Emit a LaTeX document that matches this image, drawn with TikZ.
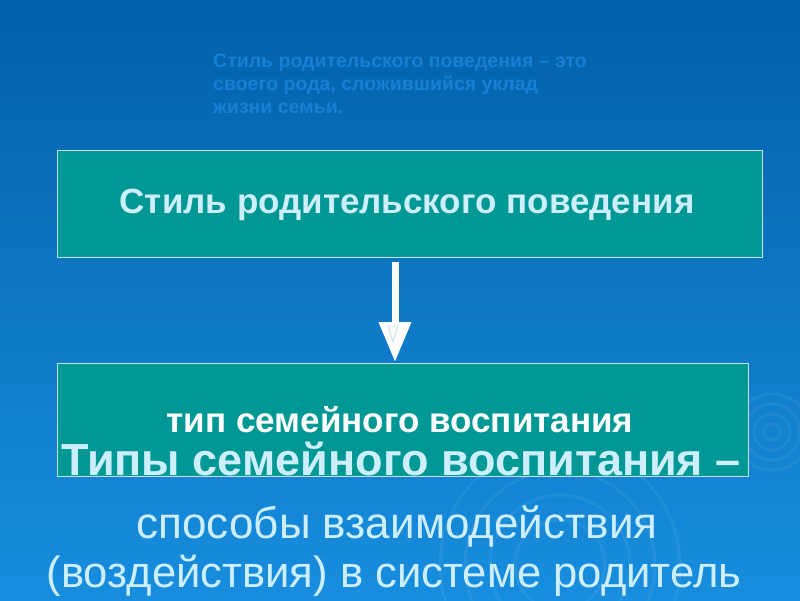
\documentclass[tikz,border=0pt]{standalone}
\usepackage{fontspec}
\setmainfont{Liberation Sans}
\usetikzlibrary{arrows.meta}
\definecolor{bgtop}{RGB}{2,96,170}
\definecolor{bgbot}{RGB}{24,142,222}
\definecolor{boxfill}{RGB}{0,152,148}
\definecolor{boxline}{RGB}{190,225,230}
\definecolor{notetext}{RGB}{24,128,212}
\definecolor{lighttext}{RGB}{205,238,252}

\begin{document}
\begin{tikzpicture}[x=1pt, y=-1pt,
  box/.style={draw=boxline, line width=0.8pt, fill=boxfill, inner sep=0pt},
  ring/.style={draw=white, opacity=0.06, line width=3pt}]
\useasboundingbox (0,0) rectangle (800,600);
\shade[top color=bgtop, bottom color=bgbot] (0,0) rectangle (800,600);
% faint rings
\foreach \r in {8,18,28,38} \draw[ring] (772,432) circle (\r);
\foreach \r in {45,70,95,120} \draw[ring] (560,565) circle (\r);
% note
\node[anchor=north west, inner sep=0pt, align=left, text=notetext, font=\bfseries\fontsize{19.5}{23}\selectfont] (note) at (213,54)
  {Стиль родительского поведения – это\\своего рода, сложившийся уклад\\жизни семьи.};
% boxes
\node[box, minimum width=705pt, minimum height=107pt] (style) at (409.5,203.5) {};
\node[text=lighttext, font=\bfseries\fontsize{35}{40}\selectfont] (styletext) at (407,205) {Стиль родительского поведения};
\node[box, minimum width=691pt, minimum height=113pt] (type) at (402.5,419.5) {};
\node[text=white, font=\bfseries\fontsize{35}{40}\selectfont] (typetext) at (400,420) {тип семейного воспитания};
% arrow
\coordinate (a) at (395,262);
\coordinate (b) at (395,362);
\draw[white, line width=7pt, -{Triangle[length=40pt, width=31pt]}] (a) -- (b);
\draw[boxline, line width=0.8pt, fill=white] (388,326) -- (398,326) -- (393,342) -- cycle;
% definition
\node[anchor=base, text=lighttext, font=\bfseries\fontsize{45}{56}\selectfont] (def1) at (401,475) {Типы семейного воспитания –};
\node[anchor=base, text=lighttext, font=\fontsize{44}{56}\selectfont] (def2) at (397,538) {способы взаимодействия};
\node[anchor=base, text=lighttext, font=\fontsize{43.6}{56}\selectfont] (def3) at (394,587) {(воздействия) в системе родитель};
\end{tikzpicture}
\end{document}
